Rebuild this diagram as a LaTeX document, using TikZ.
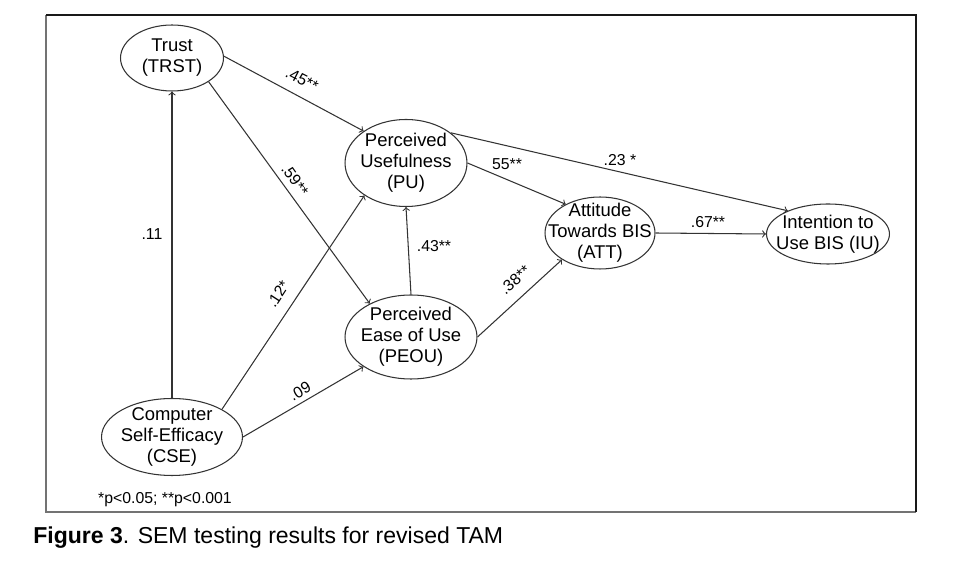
\documentclass[tikz,border=0pt]{standalone}
\usepackage{fontspec}
\setmainfont{Liberation Sans}
\usetikzlibrary{shapes.geometric}
\begin{document}
\begin{tikzpicture}[x=0.02cm, y=-0.02cm,
  construct/.style={ellipse, draw=black!80, line width=0.6pt, align=center, inner sep=-5mm, font=\fontsize{10.5}{12}\selectfont},
  coef/.style={font=\fontsize{9}{10}\selectfont, inner sep=0pt},
  link/.style={->, draw=black!80, line width=0.6pt}]
\useasboundingbox (0,0) rectangle (965,577);
\draw[black!55, line width=0.9pt] (46,15) -- (46,512) -- (916,512);
\draw[black!90, line width=0.8pt] (46,15) -- (916,15) -- (916,512);

\node[construct, minimum width=2.06cm, minimum height=1.32cm] (trst) at (172,58) {Trust\\(TRST)};
\node[construct, minimum width=2.44cm, minimum height=1.74cm] (pu) at (406,163) {Perceived\\Usefulness\\(PU)};
\node[construct, minimum width=2.64cm, minimum height=1.68cm] (peou) at (411,337) {Perceived\\Ease of Use\\(PEOU)};
\node[construct, minimum width=2.82cm, minimum height=1.54cm] (cse) at (172,437) {Computer\\Self-Efficacy\\(CSE)};
\node[construct, minimum width=2.2cm, minimum height=1.44cm] (att) at (600,233) {Attitude\\Towards BIS\\(ATT)};
\node[construct, minimum width=2.46cm, minimum height=1.2cm] (iu) at (828,234) {Intention to\\Use BIS (IU)};

\draw[link] (cse.north) -- (trst.south);
\draw[link] (cse.29) -- (pu.218);
\draw[link] (cse.east) -- (peou.212);
\draw[link] (trst.2) -- (pu.143);
\draw[link] (trst.-33) -- (peou.141);
\draw[link] (peou.north) -- (pu.south);
\draw[link] (pu.east) -- (att.140);
\draw[link] (pu.34) -- (iu.150);
\draw[link] (peou.east) -- (att.215);
\draw[link] (att.east) -- (iu.west);

\node[coef] (c-11) at (152,234) {.11};
\node[coef, rotate=-27] (c-45) at (302,80) {.45**};
\node[coef, rotate=-55] (c-59) at (295,180) {.59**};
\node[coef, rotate=57] (c-12) at (278,294) {.12*};
\node[coef, rotate=30] (c-09) at (300,391) {.09};
\node[coef] (c-43) at (434,246) {.43**};
\node[coef] (c-55) at (507,164) {55**};
\node[coef] (c-23) at (620,160) {.23 *};
\node[coef, rotate=41] (c-38) at (515,280) {.38**};
\node[coef] (c-67) at (708,222) {.67**};

\node[coef] (note) at (165,500) {*p<0.05; **p<0.001};
\node[anchor=west, inner sep=0pt, font=\fontsize{13.1}{15}\selectfont] (caption) at (33,538) {\textbf{Figure 3}. SEM testing results for revised TAM};
\end{tikzpicture}
\end{document}
